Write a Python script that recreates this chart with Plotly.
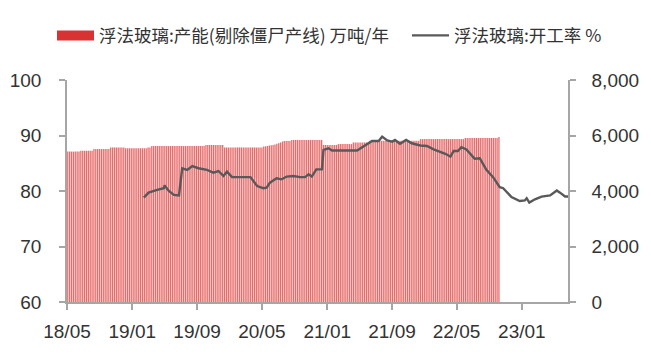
import pandas as pd
import plotly.graph_objects as go

# ---- data ----
cap_start = "2018-05-04"  # weekly capacity series start (万吨/年)
cap_values = (
    [5420] * 7 + [5450] * 7 + [5510] * 9 + [5570] * 8 + [5540] * 12 + [5570] * 2
    + [5620] * 29 + [5660] * 10 + [5570] * 21
    + [5600, 5610, 5620, 5640, 5650, 5660, 5680, 5700, 5720, 5750, 5780]
    + [5800] * 4 + [5840] * 17 + [5660] * 8 + [5690] * 8 + [5750] * 9
    + [5810] * 27 + [5870] * 24 + [5910] * 18 + [5950]
)
cap_dates = pd.date_range(cap_start, periods=len(cap_values), freq="7D")

rate_dates = [
    "2019-02-13", "2019-03-03", "2019-04-04", "2019-04-29", "2019-05-02", "2019-05-18",
    "2019-06-06", "2019-06-25", "2019-07-07", "2019-07-26", "2019-08-14", "2019-09-06",
    "2019-10-08", "2019-11-01", "2019-11-20", "2019-12-09", "2019-12-22", "2020-01-10",
    "2020-03-19", "2020-04-13", "2020-05-06", "2020-05-19", "2020-05-31", "2020-06-25",
    "2020-07-14", "2020-08-02", "2020-08-27", "2020-09-21", "2020-10-10", "2020-10-23",
    "2020-11-04", "2020-11-21", "2020-12-12", "2020-12-18", "2021-01-06", "2021-01-19",
    "2021-04-23", "2021-05-18", "2021-06-18", "2021-07-13", "2021-07-26", "2021-08-14",
    "2021-09-02", "2021-09-12", "2021-10-01", "2021-10-24", "2021-11-14", "2021-12-16",
    "2022-01-10", "2022-02-04", "2022-03-01", "2022-03-20", "2022-04-08", "2022-04-20",
    "2022-05-06", "2022-05-19", "2022-06-07", "2022-06-25", "2022-07-08", "2022-07-27",
    "2022-08-21", "2022-09-15", "2022-10-10", "2022-10-23", "2022-11-23", "2022-12-24",
    "2023-01-12", "2023-01-19", "2023-01-29", "2023-02-19", "2023-03-16", "2023-04-17",
    "2023-04-29", "2023-05-12", "2023-05-24", "2023-06-12", "2023-06-23",
]
rate_values = [
    78.8, 79.7, 80.2, 80.5, 81.0, 80.0,
    79.3, 79.2, 84.1, 83.8, 84.5, 84.1,
    83.8, 83.3, 83.6, 82.7, 83.5, 82.5,
    82.5, 80.9, 80.5, 80.6, 81.5, 82.3,
    82.1, 82.6, 82.7, 82.5, 82.5, 83.0,
    82.6, 83.9, 83.9, 87.4, 87.7, 87.3,
    87.3, 88.1, 89.0, 89.0, 89.8, 89.1,
    88.9, 89.2, 88.5, 89.2, 88.6, 88.2,
    88.1, 87.5, 87.1, 86.7, 86.2, 87.2,
    87.2, 87.9, 87.5, 86.5, 85.8, 85.9,
    83.8, 82.5, 80.7, 80.5, 78.9, 78.2,
    78.3, 78.7, 77.9, 78.5, 79.0, 79.2,
    79.6, 80.1, 79.7, 79.0, 79.0,
]

x_tick_vals = ["2018-05-01", "2019-01-01", "2019-09-01", "2020-05-01",
               "2021-01-01", "2021-09-01", "2022-05-01", "2023-01-01"]
x_tick_text = ["18/05", "19/01", "19/09", "20/05", "21/01", "21/09", "22/05", "23/01"]

name_cap = "浮法玻璃:产能(剔除僵尸产线) 万吨/年"
name_rate = "浮法玻璃:开工率 %"

BAR_COLOR = "rgba(222,50,50,0.72)"
SWATCH_COLOR = "#d93232"
LINE_COLOR = "#595959"
AXIS_COLOR = "#a6a6a6"
TEXT_COLOR = "#333333"

W, H = 651, 361

fig = go.Figure()
# bars on primary y (right side), line on overlaying y2 (left side) so it sits on top
fig.add_trace(go.Bar(
    x=cap_dates, y=cap_values, yaxis="y", name=name_cap,
    marker=dict(color=BAR_COLOR, line=dict(width=0)),
    showlegend=False,
))
fig.add_trace(go.Scatter(
    x=[None], y=[None], yaxis="y", mode="lines", name=name_cap,
    line=dict(color=SWATCH_COLOR, width=12), legend="legend",
))
fig.add_trace(go.Scatter(
    x=rate_dates, y=rate_values, yaxis="y2", mode="lines", name=name_rate,
    line=dict(color=LINE_COLOR, width=2.4), legend="legend2",
))

tickfont = dict(family="Liberation Sans, Arial, sans-serif", size=19, color=TEXT_COLOR)
axis_common = dict(
    showline=True, linecolor=AXIS_COLOR, linewidth=1.5,
    ticks="outside", ticklen=6, tickcolor=AXIS_COLOR, tickwidth=1.5,
    showgrid=False, zeroline=False, tickfont=tickfont,
)
legend_common = dict(
    orientation="h", xanchor="left", xref="container",
    y=1 - 35.5 / H, yanchor="middle", yref="container",
    font=dict(family="Noto Sans CJK SC, sans-serif", size=17.5, color=TEXT_COLOR),
    itemwidth=37, bgcolor="rgba(0,0,0,0)",
)

fig.update_layout(
    width=W, height=H,
    margin=dict(l=67, r=83, t=80, b=59, autoexpand=False),
    paper_bgcolor="white", plot_bgcolor="white",
    bargap=0.3,
    showlegend=True,
    legend=dict(x=52 / W, **legend_common),
    legend2=dict(x=407 / W, **legend_common),
    xaxis=dict(
        type="date", range=["2018-05-01", "2023-06-23"],
        tickvals=x_tick_vals, ticktext=x_tick_text,
        ticklabelstandoff=5, **axis_common,
    ),
    yaxis=dict(
        range=[0, 8000], tickvals=[0, 2000, 4000, 6000, 8000],
        tickformat=",d", side="right",
        ticklabelstandoff=12, **axis_common,
    ),
    yaxis2=dict(
        range=[60, 100], tickvals=[60, 70, 80, 90, 100],
        overlaying="y", side="left",
        ticklabelstandoff=14, **axis_common,
    ),
)

fig.write_html("out.html", config={"displayModeBar": False},
               post_script="document.body.style.margin='0';")
